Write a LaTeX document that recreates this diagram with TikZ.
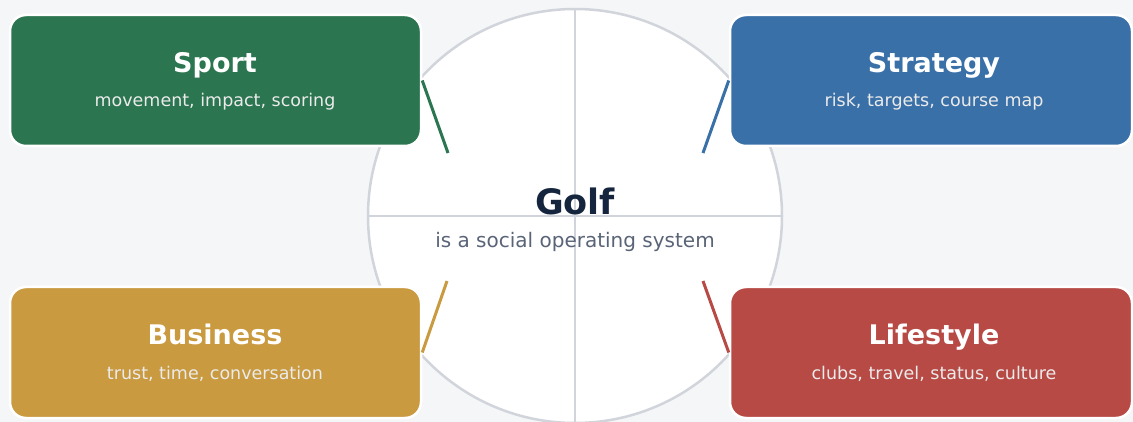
\documentclass[tikz,border=0pt]{standalone}
\usepackage{fontspec}
\setmainfont{DejaVu Sans}
\definecolor{bg}{HTML}{F5F6F8}
\definecolor{ring}{HTML}{D1D5DB}
\definecolor{cgreen}{HTML}{2B7550}
\definecolor{cblue}{HTML}{3A70A8}
\definecolor{cgold}{HTML}{C99A3F}
\definecolor{cred}{HTML}{B84A46}
\definecolor{navy}{HTML}{15253D}
\definecolor{slate}{HTML}{5A6478}
\tikzset{
  card/.style={rounded corners=16pt, draw=white, line width=2.5pt, minimum height=131pt, inner sep=0pt},
  cardtitle/.style={anchor=base, text=white, font=\fontsize{27}{30}\selectfont\bfseries, inner sep=0pt},
  cardsub/.style={anchor=base, text=white!92!black, font=\fontsize{17.5}{20}\selectfont, inner sep=0pt},
  link/.style={line width=3pt},
  ringline/.style={draw=ring, line width=2pt}
}
\begin{document}
\begin{tikzpicture}[x=1pt,y=-1pt]
\fill[bg] (0,0) rectangle (1133,422);
\useasboundingbox (0,0) rectangle (1133,422);
\node[circle, fill=white, draw=ring, line width=2.5pt, minimum size=414pt, inner sep=0pt] (hub) at (575,216) {};
\draw[ringline] (hub.north) -- (hub.south);
\draw[ringline] (hub.west) -- (hub.east);
\node[anchor=base, text=navy, font=\fontsize{35}{40}\selectfont\bfseries, inner sep=0pt] (golf) at (575,215) {Golf};
\node[anchor=base, text=slate, font=\fontsize{20}{24}\selectfont, inner sep=0pt] (golfsub) at (575,248) {is a social operating system};
% connector ends
\coordinate (e1) at (448,153);
\coordinate (e2) at (703,153);
\coordinate (e3) at (447,281);
\coordinate (e4) at (703,281);
% cards
\node[card, fill=cgreen, minimum width=411pt] (sport) at (215.5,80.5) {};
\node[card, fill=cblue, minimum width=402pt] (strategy) at (931,80.5) {};
\node[card, fill=cgold, minimum width=411pt] (business) at (215.5,352.5) {};
\node[card, fill=cred, minimum width=402pt] (lifestyle) at (931,352.5) {};
\draw[link, cgreen] (sport.east) -- (e1);
\draw[link, cblue] (strategy.west) -- (e2);
\draw[link, cgold] (business.east) -- (e3);
\draw[link, cred] (lifestyle.west) -- (e4);
\node[cardtitle] (t1) at (215,72.5) {Sport};
\node[cardsub] (s1) at (215,107) {movement, impact, scoring};
\node[cardtitle] (t2) at (934,72.5) {Strategy};
\node[cardsub] (s2) at (934,107) {risk, targets, course map};
\node[cardtitle] (t3) at (215,344) {Business};
\node[cardsub] (s3) at (215,379) {trust, time, conversation};
\node[cardtitle] (t4) at (934,344) {Lifestyle};
\node[cardsub] (s4) at (934,379) {clubs, travel, status, culture};
\end{tikzpicture}
\end{document}
